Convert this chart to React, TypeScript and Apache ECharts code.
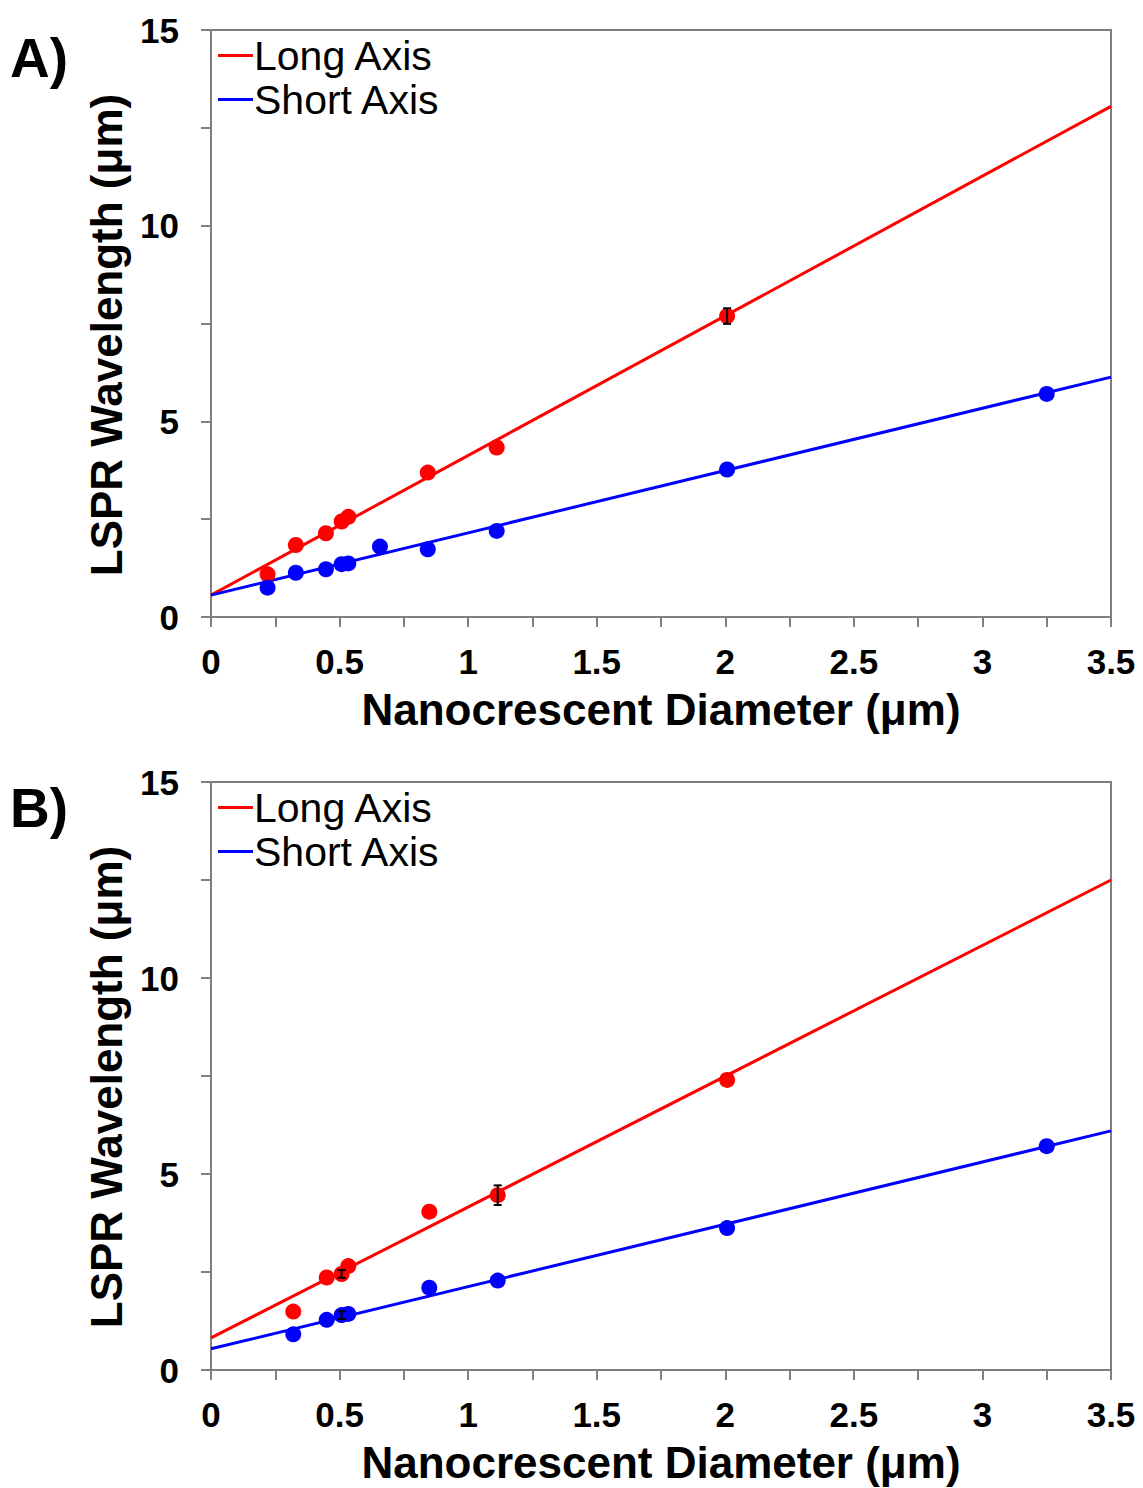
import React, { useEffect, useRef } from "react";
import * as echarts from "echarts";

// ---------- data ----------
const aLongX = [0.22, 0.33, 0.447, 0.508, 0.534, 0.843, 1.111, 2.007];
const aLongY = [1.09, 1.84, 2.14, 2.44, 2.56, 3.69, 4.33, 7.69];
const aShortX = [0.22, 0.33, 0.447, 0.508, 0.534, 0.657, 0.843, 1.111, 2.007, 3.25];
const aShortY = [0.75, 1.13, 1.22, 1.35, 1.37, 1.8, 1.73, 2.2, 3.77, 5.7];
const aLongFit = [[0, 0.56], [3.5, 13.05]];
const aShortFit = [[0, 0.56], [3.5, 6.13]];
const aErr = [[2.007, 7.69, 0.2]];

const bLongX = [0.32, 0.45, 0.508, 0.534, 0.849, 1.115, 2.007];
const bLongY = [1.49, 2.36, 2.45, 2.65, 4.04, 4.46, 7.4];
const bShortX = [0.32, 0.45, 0.508, 0.534, 0.849, 1.115, 2.007, 3.25];
const bShortY = [0.91, 1.28, 1.4, 1.43, 2.1, 2.28, 3.62, 5.71];
const bLongFit = [[0, 0.82], [3.5, 12.5]];
const bShortFit = [[0, 0.54], [3.5, 6.1]];
const bErr = [[1.115, 4.46, 0.25], [0.508, 2.45, 0.1], [0.508, 1.4, 0.1]];

const seriesNames = ["Long Axis", "Short Axis"];
const xTitle = "Nanocrescent Diameter (μm)";
const yTitle = "LSPR Wavelength (μm)";
const panelLabels = ["A)", "B)"];

const RED = "#ff0000";
const BLUE = "#0000ff";
const AXIS = "#7f7f7f";
const FONT = "Liberation Sans, Arial, sans-serif";

const zip = (xs: number[], ys: number[]) => xs.map((x, i) => [x, ys[i]]);

export default function App() {
  const ref = useRef<HTMLDivElement>(null);
  useEffect(() => {
    if (!ref.current) return;
    const chart = echarts.init(ref.current, null, { renderer: "svg" });

    const grids = [
      { left: 211, top: 30, width: 900, height: 587 },
      { left: 211, top: 782, width: 900, height: 588 },
    ];

    const xAxisCfg = (gi: number) => ({
      type: "value",
      gridIndex: gi,
      min: 0,
      max: 3.5,
      interval: 0.5,
      name: xTitle,
      nameLocation: "middle",
      nameGap: 70,
      nameTextStyle: { fontFamily: FONT, fontWeight: "bold", fontSize: 44, color: "#000" },
      axisLine: { show: true, onZero: false, lineStyle: { color: AXIS, width: 2 } },
      axisTick: { show: true, inside: false, length: 10, lineStyle: { color: AXIS, width: 2 } },
      minorTick: { show: true, splitNumber: 2, length: 10, lineStyle: { color: AXIS, width: 2 } },
      splitLine: { show: false },
      axisLabel: {
        margin: 27,
        fontFamily: FONT,
        fontWeight: "bold",
        fontSize: 35,
        color: "#000",
        formatter: (v: number) => String(v),
      },
    });
    const yAxisCfg = (gi: number) => ({
      type: "value",
      gridIndex: gi,
      min: 0,
      max: 15,
      interval: 5,
      axisLine: { show: true, onZero: false, lineStyle: { color: AXIS, width: 2 } },
      axisTick: { show: true, inside: false, length: 10, lineStyle: { color: AXIS, width: 2 } },
      minorTick: { show: true, splitNumber: 2, length: 10, lineStyle: { color: AXIS, width: 2 } },
      splitLine: { show: false },
      axisLabel: {
        margin: 32,
        fontFamily: FONT,
        fontWeight: "bold",
        fontSize: 35,
        color: "#000",
      },
    });

    const fitLine = (name: string, data: number[][], color: string, gi: number) => ({
      name,
      type: "line",
      xAxisIndex: gi,
      yAxisIndex: gi,
      data,
      symbol: "none",
      lineStyle: { color, width: 3 },
      itemStyle: { color },
      z: 3,
    });
    const pts = (data: number[][], color: string, gi: number) => ({
      type: "scatter",
      xAxisIndex: gi,
      yAxisIndex: gi,
      data,
      symbolSize: 16,
      itemStyle: { color, opacity: 1 },
      z: 4,
    });
    const errBars = (data: number[][], gi: number) => ({
      type: "custom",
      xAxisIndex: gi,
      yAxisIndex: gi,
      data,
      z: 5,
      renderItem: (params: any, api: any) => {
        const x = api.value(0);
        const y = api.value(1);
        const e = api.value(2);
        const top = api.coord([x, y + e]);
        const bot = api.coord([x, y - e]);
        const style = { stroke: "#000", lineWidth: 2 };
        return {
          type: "group",
          children: [
            { type: "line", shape: { x1: top[0], y1: top[1], x2: bot[0], y2: bot[1] }, style },
            { type: "line", shape: { x1: top[0] - 4, y1: top[1], x2: top[0] + 4, y2: top[1] }, style },
            { type: "line", shape: { x1: bot[0] - 4, y1: bot[1], x2: bot[0] + 4, y2: bot[1] }, style },
          ],
        };
      },
    });

    const legendCfg = (top: number) => ({
      left: 213,
      top,
      orient: "vertical",
      icon: "rect",
      itemWidth: 35,
      itemHeight: 3,
      itemGap: 3,
      data: seriesNames,
      textStyle: { fontFamily: FONT, fontSize: 41, color: "#000", padding: [0, 0, 0, -4] },
    });

    const yTitleText = (cy: number) => ({
      type: "text",
      x: 106,
      y: cy,
      rotation: Math.PI / 2,
      style: {
        text: yTitle,
        fontFamily: FONT,
        fontWeight: "bold",
        fontSize: 44,
        fill: "#000",
        textAlign: "center",
        textVerticalAlign: "middle",
      },
    });

    chart.setOption({
      animation: false,
      backgroundColor: "#fff",
      grid: grids.map((g) => ({ ...g, show: true, borderColor: AXIS, borderWidth: 2, backgroundColor: "transparent" })),
      xAxis: [xAxisCfg(0), xAxisCfg(1)],
      yAxis: [yAxisCfg(0), yAxisCfg(1)],
      legend: [legendCfg(30), legendCfg(782)],
      series: [
        fitLine(seriesNames[0], aLongFit, RED, 0),
        fitLine(seriesNames[1], aShortFit, BLUE, 0),
        pts(zip(aLongX, aLongY), RED, 0),
        pts(zip(aShortX, aShortY), BLUE, 0),
        errBars(aErr, 0),
        fitLine(seriesNames[0], bLongFit, RED, 1),
        fitLine(seriesNames[1], bShortFit, BLUE, 1),
        pts(zip(bLongX, bLongY), RED, 1),
        pts(zip(bShortX, bShortY), BLUE, 1),
        errBars(bErr, 1),
      ],
      graphic: [
        yTitleText(335),
        yTitleText(1087),
        {
          type: "text",
          left: 10,
          top: 30,
          style: { text: panelLabels[0], fontFamily: FONT, fontWeight: "bold", fontSize: 55, fill: "#000" },
        },
        {
          type: "text",
          left: 10,
          top: 780,
          style: { text: panelLabels[1], fontFamily: FONT, fontWeight: "bold", fontSize: 55, fill: "#000" },
        },
      ],
    });
    return () => chart.dispose();
  }, []);

  return (
    <div
      ref={ref}
      style={{ position: "absolute", left: 0, top: 0, width: 1143, height: 1488, background: "#fff" }}
    />
  );
}
